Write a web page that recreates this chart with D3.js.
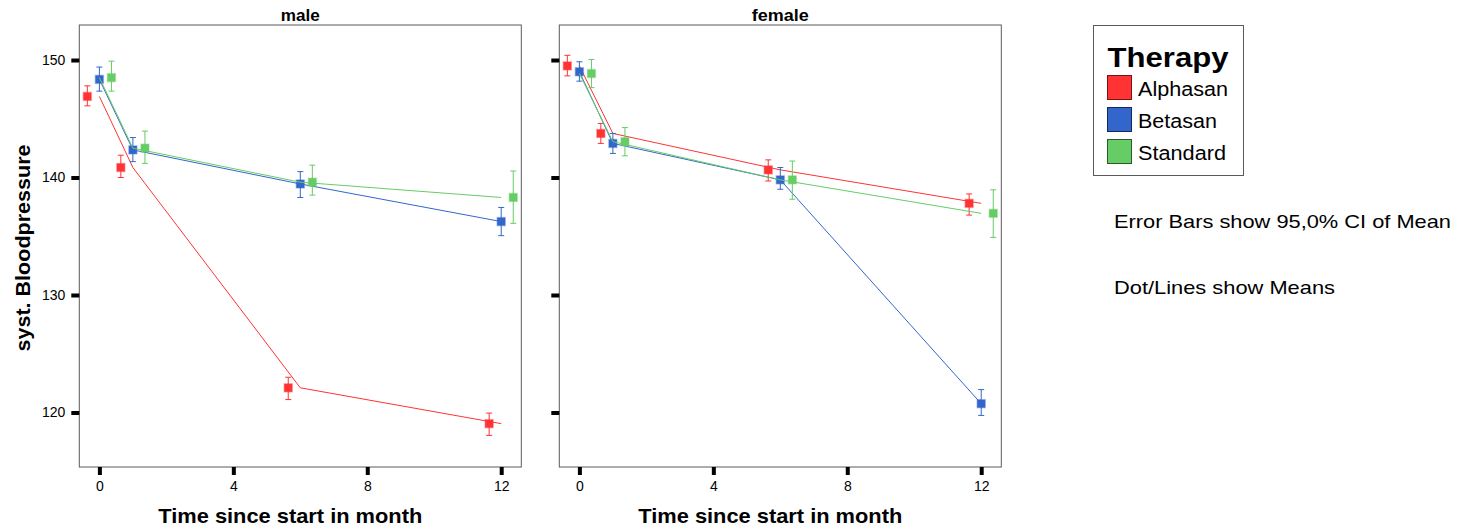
<!DOCTYPE html>
<html>
<head>
<meta charset="utf-8">
<script src="https://cdn.jsdelivr.net/npm/d3@7"></script>
<style>
  html, body { margin: 0; padding: 0; background: #fff; }
  svg { display: block; font-family: "Liberation Sans", Arial, sans-serif; }
</style>
</head>
<body>
<svg id="chart" width="1465" height="528"></svg>
<script>
// Measurement times (months since start)
const times = [0, 1, 6, 12];
const therapies = ["Alphasan", "Betasan", "Standard"];
const genders = ["male", "female"];
const xTickValues = [0, 4, 8, 12];
const yTickValues = [120, 130, 140, 150];

// Means and 95% CI bounds of systolic blood pressure, per gender and therapy
const maleAlphasanMean = [146.9, 140.85, 122.1, 119.05];
const maleAlphasanLow  = [146.1, 140.0, 121.1, 118.05];
const maleAlphasanHigh = [147.8, 141.9, 123.0, 119.95];
const maleBetasanMean  = [148.35, 142.35, 139.45, 136.25];
const maleBetasanLow   = [147.35, 141.35, 138.3, 135.05];
const maleBetasanHigh  = [149.4, 143.4, 140.5, 137.45];
const maleStandardMean = [148.5, 142.5, 139.6, 138.3];
const maleStandardLow  = [147.35, 141.2, 138.5, 136.1];
const maleStandardHigh = [149.9, 143.95, 141.05, 140.55];

const femaleAlphasanMean = [149.5, 143.75, 140.65, 137.8];
const femaleAlphasanLow  = [148.65, 142.9, 139.7, 136.8];
const femaleAlphasanHigh = [150.4, 144.6, 141.5, 138.6];
const femaleBetasanMean  = [149.0, 142.9, 139.8, 120.75];
const femaleBetasanLow   = [148.2, 142.05, 139.0, 119.75];
const femaleBetasanHigh  = [149.85, 143.75, 140.85, 121.95];
const femaleStandardMean = [148.85, 143.05, 139.8, 136.95];
const femaleStandardLow  = [147.65, 141.85, 138.15, 134.9];
const femaleStandardHigh = [150.05, 144.25, 141.4, 138.95];

const seriesTable = {
  male: {
    Alphasan: [maleAlphasanMean, maleAlphasanLow, maleAlphasanHigh],
    Betasan: [maleBetasanMean, maleBetasanLow, maleBetasanHigh],
    Standard: [maleStandardMean, maleStandardLow, maleStandardHigh]
  },
  female: {
    Alphasan: [femaleAlphasanMean, femaleAlphasanLow, femaleAlphasanHigh],
    Betasan: [femaleBetasanMean, femaleBetasanLow, femaleBetasanHigh],
    Standard: [femaleStandardMean, femaleStandardLow, femaleStandardHigh]
  }
};

const colors = d3.scaleOrdinal()
  .domain(therapies)
  .range(["#ff3333", "#3366cc", "#66cc66"]);
const swatchStroke = d3.scaleOrdinal()
  .domain(therapies)
  .range(["#7a1414", "#14285a", "#2a5a2a"]);
// markers are shifted sideways per therapy so the CI bars do not overlap
const dodge = d3.scaleOrdinal().domain(therapies).range([-0.36, 0, 0.36]);

const svg = d3.select("#chart");

// text helper: fixed rendered width keeps the wide label look
function label(parent, txt, x, y, size, width, opts = {}) {
  const t = parent.append("text")
    .attr("x", x).attr("y", y)
    .style("font-size", size + "px")
    .style("font-weight", opts.bold ? "bold" : "normal")
    .attr("text-anchor", opts.anchor || "start")
    .text(txt);
  if (width) t.attr("textLength", width).attr("lengthAdjust", "spacingAndGlyphs");
  if (opts.transform) t.attr("transform", opts.transform);
  return t;
}

const panelW = 442, panelTop = 25, panelBottom = 467;
const panelLefts = { male: 79.3, female: 559.3 };
const titleWidths = { male: 39, female: 57 };

const y = d3.scaleLinear()
  .domain([115.36, 152.98])
  .range([panelBottom, panelTop]);

genders.forEach(g => {
  const left = panelLefts[g];
  const x = d3.scaleLinear().domain([-0.6, 12.6]).range([left, left + panelW]);
  const gp = svg.append("g");

  // panel frame
  gp.append("rect")
    .attr("x", left).attr("y", panelTop)
    .attr("width", panelW).attr("height", panelBottom - panelTop)
    .attr("fill", "none").attr("stroke", "#5a5a5a").attr("stroke-width", 1);

  // panel title
  label(gp, g, left + panelW / 2, 21, 16, titleWidths[g], { bold: true, anchor: "middle" });

  // x axis
  const xAxis = d3.axisBottom(x).tickValues(xTickValues).tickSize(8).tickPadding(6);
  const gx = gp.append("g").attr("transform", `translate(0,${panelBottom})`).call(xAxis);
  gx.select(".domain").remove();
  gx.selectAll(".tick line").attr("stroke", "#000").attr("stroke-width", 4);
  gx.selectAll(".tick text")
    .style("font-size", "14px").style("font-family", "'Liberation Sans', Arial, sans-serif")
    .attr("fill", "#000");

  // y axis (labels only on the first panel)
  const yAxis = d3.axisLeft(y).tickValues(yTickValues).tickSize(8).tickPadding(6);
  if (g !== "male") yAxis.tickFormat("");
  const gy = gp.append("g").attr("transform", `translate(${left},0)`).call(yAxis);
  gy.select(".domain").remove();
  gy.selectAll(".tick line").attr("stroke", "#000").attr("stroke-width", 4);
  gy.selectAll(".tick text")
    .style("font-size", "14px").style("font-family", "'Liberation Sans', Arial, sans-serif")
    .attr("fill", "#000");

  // x axis title
  label(gp, "Time since start in month", left + panelW / 2 - 10, 523, 21, 264, { bold: true, anchor: "middle" });

  therapies.forEach(t => {
    const [mean, lo, hi] = seriesTable[g][t];
    const pts = times.map((tm, i) => ({ t: tm, m: mean[i], lo: lo[i], hi: hi[i] }));
    const c = colors(t);

    // mean line drawn at the true times
    gp.append("path")
      .datum(pts)
      .attr("fill", "none").attr("stroke", c).attr("stroke-width", 1)
      .attr("d", d3.line().x(d => x(d.t)).y(d => y(d.m)));

    const gs = gp.append("g");
    // CI bars
    const eb = gs.selectAll("g.eb").data(pts).join("g").attr("class", "eb");
    eb.append("line")
      .attr("x1", d => x(d.t + dodge(t))).attr("x2", d => x(d.t + dodge(t)))
      .attr("y1", d => y(d.lo)).attr("y2", d => y(d.hi))
      .attr("stroke", c).attr("stroke-width", 1);
    eb.append("line")
      .attr("x1", d => x(d.t + dodge(t)) - 3).attr("x2", d => x(d.t + dodge(t)) + 3)
      .attr("y1", d => y(d.lo)).attr("y2", d => y(d.lo))
      .attr("stroke", c).attr("stroke-width", 1);
    eb.append("line")
      .attr("x1", d => x(d.t + dodge(t)) - 3).attr("x2", d => x(d.t + dodge(t)) + 3)
      .attr("y1", d => y(d.hi)).attr("y2", d => y(d.hi))
      .attr("stroke", c).attr("stroke-width", 1);

    // mean markers
    gs.selectAll("rect.mk").data(pts).join("rect").attr("class", "mk")
      .attr("x", d => x(d.t + dodge(t)) - 4).attr("y", d => y(d.m) - 4)
      .attr("width", 8).attr("height", 8)
      .attr("fill", c)
      .attr("stroke", c).attr("stroke-opacity", 0.35).attr("stroke-width", 1.5);
  });
});

// y axis title
label(svg, "syst. Bloodpressure", 0, 0, 20, 207,
  { bold: true, anchor: "middle", transform: "translate(29.5,248) rotate(-90)" });

// legend
const lg = svg.append("g");
lg.append("rect")
  .attr("x", 1093.5).attr("y", 25.5).attr("width", 150).attr("height", 150)
  .attr("fill", "#fff").attr("stroke", "#5a5a5a").attr("stroke-width", 1);
label(lg, "Therapy", 1107.5, 66.7, 28, 121, { bold: true });
const legendWidths = [90, 79, 88];
therapies.forEach((t, i) => {
  lg.append("rect")
    .attr("x", 1107.5).attr("y", 75.5 + i * 32).attr("width", 24).attr("height", 24)
    .attr("fill", colors(t)).attr("stroke", swatchStroke(t)).attr("stroke-width", 1);
  label(lg, t, 1138, 96 + i * 32, 20, legendWidths[i]);
});

// notes
label(svg, "Error Bars show 95,0% CI of Mean", 1114, 228, 19, 337);
label(svg, "Dot/Lines show Means", 1114, 294, 19, 221);
</script>
</body>
</html>
